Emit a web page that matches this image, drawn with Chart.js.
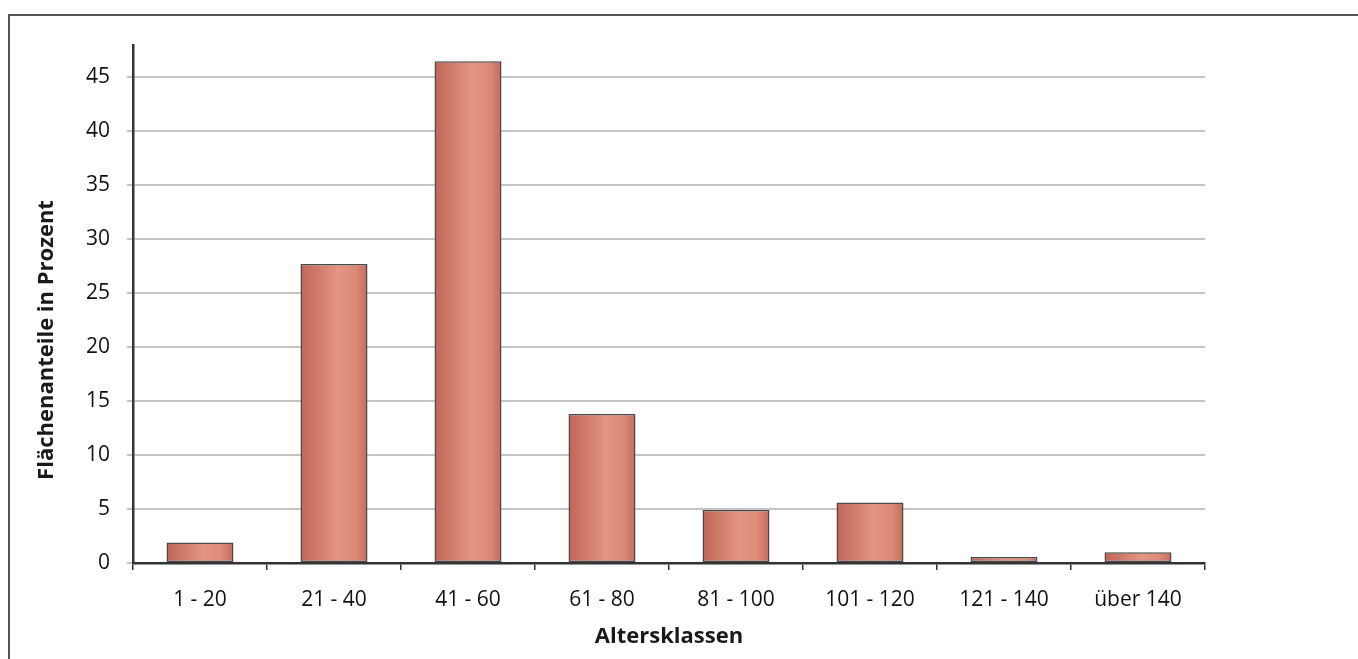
<!DOCTYPE html>
<html>
<head>
<meta charset="utf-8">
<script src="https://cdn.jsdelivr.net/npm/chart.js@4"></script>
<style>
  html, body { margin: 0; padding: 0; background: #fff; overflow: hidden; }
  #frame { position: absolute; left: 8px; top: 14px; width: 1400px; height: 700px; border-left: 2px solid #555; border-top: 2px solid #555; box-sizing: border-box; }
  #wrap { position: absolute; left: 0; top: 0; width: 1358px; height: 659px; }
</style>
</head>
<body>
<div id="frame"></div>
<div id="wrap"><canvas id="c" width="1358" height="659"></canvas></div>
<script>
const categories = ["1 - 20", "21 - 40", "41 - 60", "61 - 80", "81 - 100", "101 - 120", "121 - 140", "über 140"];
const values = [1.9, 27.7, 46.5, 13.8, 4.9, 5.6, 0.55, 1.0];
const yTicks = [0, 5, 10, 15, 20, 25, 30, 35, 40, 45];
const yTitle = "Flächenanteile in Prozent";
const xTitle = "Altersklassen";

const FONT = "'Open Sans', sans-serif";

function barGradient(context) {
  const chart = context.chart;
  const xs = chart.scales && chart.scales.x;
  if (!xs || !chart.chartArea) return '#d8806f';
  const cw = (xs.right - xs.left) / categories.length;
  const w = cw * 0.5;
  const cx = xs.getPixelForValue(context.dataIndex);
  const g = chart.ctx.createLinearGradient(cx - w / 2, 0, cx + w / 2, 0);
  g.addColorStop(0, '#c0665a');
  g.addColorStop(0.2, '#cb7667');
  g.addColorStop(0.55, '#e39581');
  g.addColorStop(0.82, '#dc8b78');
  g.addColorStop(1, '#c46b5d');
  return g;
}

const yTitlePlugin = {
  id: 'yTitle',
  afterDraw(chart) {
    const ctx = chart.ctx;
    ctx.save();
    ctx.translate(47, 340);
    ctx.rotate(-Math.PI / 2);
    ctx.font = "bold 22px " + FONT;
    ctx.fillStyle = '#1a1a1a';
    ctx.textAlign = 'center';
    ctx.textBaseline = 'middle';
    ctx.fillText(yTitle, 0, 0);
    ctx.restore();
  }
};

new Chart(document.getElementById('c'), {
  type: 'bar',
  data: {
    labels: categories,
    datasets: [{
      data: values,
      backgroundColor: barGradient,
      borderColor: '#4a4a4a',
      borderWidth: 1.5,
      borderSkipped: false,
      categoryPercentage: 1.0,
      barPercentage: 0.5
    }]
  },
  options: {
    responsive: false,
    animation: false,
    devicePixelRatio: 1,
    layout: { padding: { left: 0, top: 45, right: 153, bottom: 0 } },
    plugins: { legend: { display: false }, tooltip: { enabled: false } },
    scales: {
      x: {
        afterFit(scale) { scale.height = 96; },
        grid: { display: true, drawOnChartArea: false, drawTicks: true, offset: true, color: '#333', lineWidth: 1.5, tickLength: 7 },
        border: { display: true, color: '#333', width: 2.5 },
        ticks: { color: '#111', font: { family: FONT, size: 21 }, padding: 17, maxRotation: 0 },
        title: { display: true, text: xTitle, color: '#1a1a1a', font: { family: FONT, size: 22, weight: 'bold' }, padding: { top: 0, bottom: 9 } }
      },
      y: {
        min: 0,
        max: 48,
        afterFit(scale) { scale.width = 133; },
        afterBuildTicks(scale) { scale.ticks = yTicks.map(v => ({ value: v })); },
        grid: { color: '#c4c4c4', lineWidth: 2, tickLength: 6 },
        border: { display: true, color: '#333', width: 2.5 },
        ticks: { color: '#111', font: { family: FONT, size: 21 }, padding: 17, stepSize: 5 }
      }
    }
  },
  plugins: [yTitlePlugin]
});
</script>
</body>
</html>
